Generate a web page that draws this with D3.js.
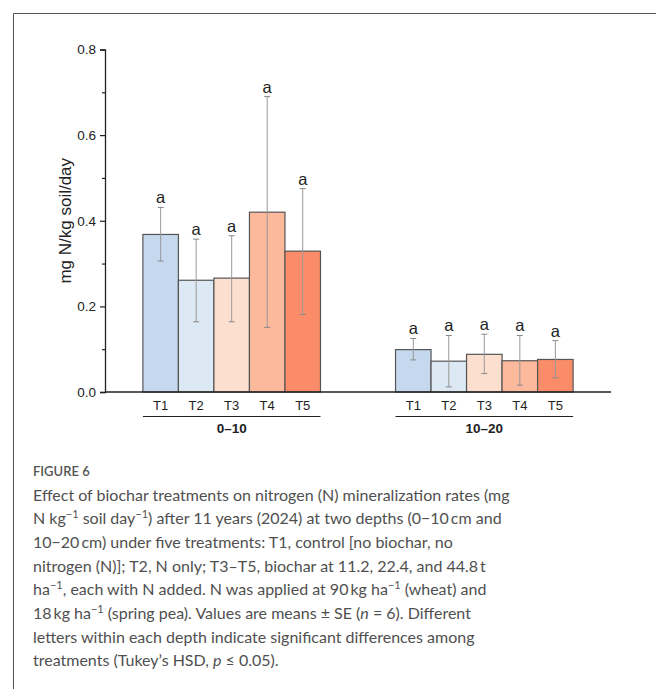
<!DOCTYPE html>
<html><head><meta charset="utf-8">
<script src="https://cdn.jsdelivr.net/npm/d3@7/dist/d3.min.js"></script>
<style>body{margin:0;background:#fff}svg{display:block}</style>
</head><body>
<script>
const depths = ["0–10", "10–20"];
const treatments = ["T1", "T2", "T3", "T4", "T5"];
const means = [[0.368, 0.261, 0.266, 0.420, 0.329], [0.099, 0.072, 0.088, 0.073, 0.076]];
const errLow = [[0.306, 0.164, 0.164, 0.151, 0.181], [0.075, 0.012, 0.043, 0.016, 0.033]];
const errHigh = [[0.431, 0.357, 0.365, 0.690, 0.475], [0.125, 0.132, 0.135, 0.132, 0.120]];
const letters = [["a", "a", "a", "a", "a"], ["a", "a", "a", "a", "a"]];
const yTicks = [0, 0.2, 0.4, 0.6, 0.8];
const colors = ["#c5d8ee", "#dde8f5", "#fddfcf", "#fcb99b", "#fb8c69"];

const W = 656, H = 689;
const svg = d3.select("body").append("svg").attr("width", W).attr("height", H);
svg.append("path").attr("d", `M13.5,${H}V13.5H${W}`).attr("fill", "none").attr("stroke", "#555").attr("stroke-width", 1);

const y = d3.scaleLinear().domain([0, 0.8]).range([392, 49.5]);
const xg = d3.scaleBand().domain(depths).range([105, 611]).paddingInner(0.297).paddingOuter(0.15);
const xt = d3.scaleBand().domain(treatments).range([0, xg.bandwidth()]).padding(0);

const font = "'Liberation Sans', Arial, sans-serif";
const g = svg.append("g");

const yAxis = g.append("g").attr("transform", "translate(105,0)")
  .call(d3.axisLeft(y).tickValues(yTicks).tickFormat(d3.format(".1f")).tickSizeOuter(0).tickSize(5));
yAxis.attr("font-family", null).attr("font-size", null);
yAxis.selectAll("text").style("font-family", font).style("font-size", "13.5px").attr("fill", "#222").attr("x", -9);
yAxis.select(".domain").attr("stroke", "#222").attr("stroke-width", 1.3);
yAxis.selectAll(".tick line").attr("stroke", "#222").attr("stroke-width", 1.2);
g.append("g").attr("transform", "translate(105,0)")
  .call(d3.axisLeft(y).tickValues([0.1, 0.3, 0.5, 0.7]).tickFormat("").tickSize(3).tickSizeOuter(0))
  .call(s => { s.select(".domain").remove(); s.selectAll("line").attr("stroke", "#222").attr("stroke-width", 1.2); });

svg.append("text").attr("transform", `translate(71,${y(0.4)}) rotate(-90)`)
  .attr("text-anchor", "middle").style("font-family", font).style("font-size", "17px").attr("fill", "#222")
  .text("mg N/kg soil/day");

depths.forEach((dep, gi) => {
  const gg = g.append("g").attr("transform", `translate(${xg(dep)},0)`);
  treatments.forEach((t, i) => {
    gg.append("rect").attr("x", xt(t)).attr("y", y(means[gi][i]))
      .attr("width", xt.bandwidth()).attr("height", y(0) - y(means[gi][i]))
      .attr("fill", colors[i]).attr("stroke", "#555").attr("stroke-width", 1.2);
  });
  treatments.forEach((t, i) => {
    const cx = xt(t) + xt.bandwidth() / 2;
    gg.append("line").attr("x1", cx).attr("x2", cx).attr("y1", y(errLow[gi][i])).attr("y2", y(errHigh[gi][i]))
      .attr("stroke", "#999").attr("stroke-width", 1);
    [errLow[gi][i], errHigh[gi][i]].forEach(v => {
      gg.append("line").attr("x1", cx - 3).attr("x2", cx + 3).attr("y1", y(v)).attr("y2", y(v))
        .attr("stroke", "#888").attr("stroke-width", 1);
    });
    gg.append("text").attr("x", cx).attr("y", y(errHigh[gi][i]) - 4).attr("text-anchor", "middle")
      .style("font-family", font).style("font-size", "16.5px").attr("fill", "#222").text(letters[gi][i]);
    gg.append("text").attr("x", cx).attr("y", 409.5).attr("text-anchor", "middle")
      .style("font-family", font).style("font-size", "13px").attr("fill", "#222").text(t);
  });
  gg.append("line").attr("x1", 0).attr("x2", xg.bandwidth()).attr("y1", 416.5).attr("y2", 416.5)
    .attr("stroke", "#222").attr("stroke-width", 1.2);
  gg.append("text").attr("x", xg.bandwidth() / 2).attr("y", 432.5).attr("text-anchor", "middle")
    .style("font-family", font).style("font-size", "13.5px").attr("font-weight", "bold").attr("fill", "#222").text(dep);
});
g.append("line").attr("x1", 105).attr("x2", 611).attr("y1", y(0)).attr("y2", y(0))
  .attr("stroke", "#222").attr("stroke-width", 1.3);

const capFont = "Lato, 'Open Sans', sans-serif";
svg.append("text").attr("x", 33).attr("y", 476).style("font-family", capFont).style("font-size", "13px")
  .attr("font-weight", 600).attr("fill", "#555").text("FIGURE 6");
const lines = [
  [["Effect of biochar treatments on nitrogen (N) mineralization rates (mg"]],
  [["N kg"], ["−1", "sup"], [" soil day"], ["−1", "sup"], [") after 11 years (2024) at two depths (0−10\u2009cm and"]],
  [["10−20\u2009cm) under five treatments: T1, control [no biochar, no"]],
  [["nitrogen (N)]; T2, N only; T3–T5, biochar at 11.2, 22.4, and 44.8\u2009t"]],
  [["ha"], ["−1", "sup"], [", each with N added. N was applied at 90\u2009kg ha"], ["−1", "sup"], [" (wheat) and"]],
  [["18\u2009kg ha"], ["−1", "sup"], [" (spring pea). Values are means ± SE ("], ["n", "i"], [" = 6). Different"]],
  [["letters within each depth indicate significant differences among"]],
  [["treatments (Tukey’s HSD, "], ["p", "i"], [" ≤ 0.05)."]]
];
lines.forEach((segs, li) => {
  const t = svg.append("text").attr("x", 33).attr("y", 500.5 + li * 23.7)
    .style("font-family", capFont).style("font-size", "16px").attr("fill", "#505050");
  let up = false;
  segs.forEach(([s, st]) => {
    const ts = t.append("tspan").text(s);
    if (st === "sup") { ts.style("font-size", "11px").attr("dy", up ? 0 : -6); up = true; }
    else { if (up) ts.attr("dy", 6); up = false; if (st === "i") ts.attr("font-style", "italic"); }
  });
});
</script>
</body></html>
